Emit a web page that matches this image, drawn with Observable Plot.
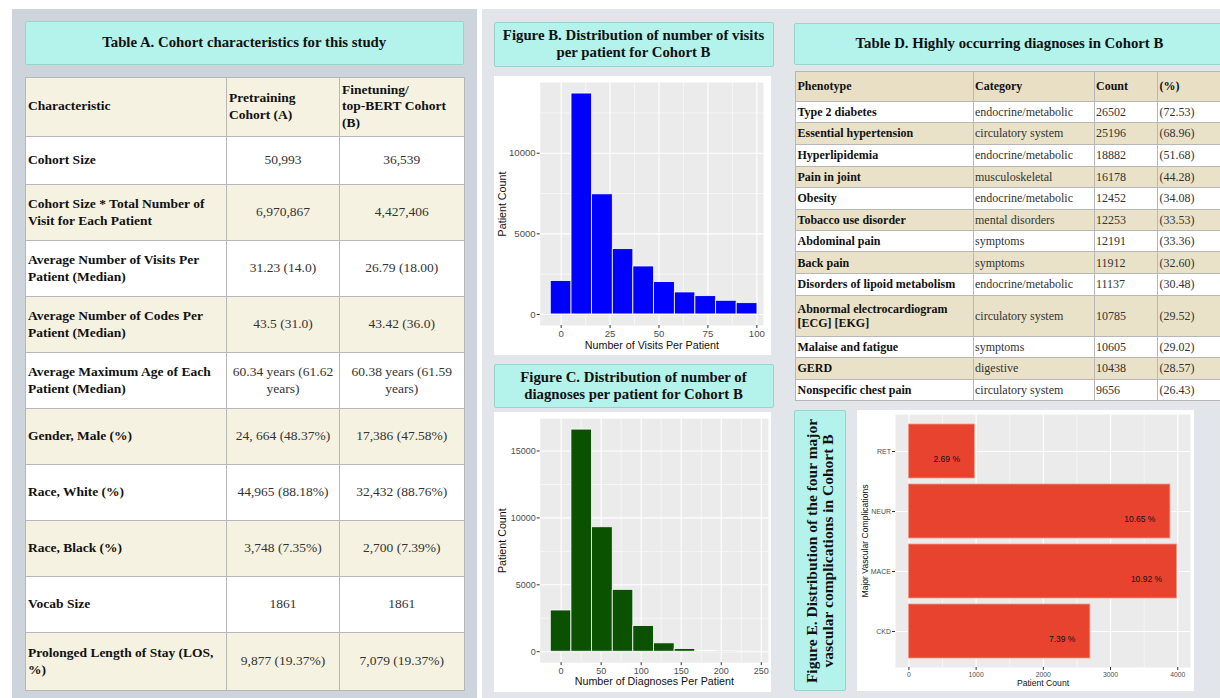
<!DOCTYPE html>
<html><head><meta charset="utf-8">
<script src="https://cdn.jsdelivr.net/npm/d3@7"></script>
<script src="https://cdn.jsdelivr.net/npm/@observablehq/plot@0.6"></script>
<style>
html,body{margin:0;padding:0;background:#fff;}
body{width:1220px;height:698px;overflow:hidden;position:relative;font-family:"Liberation Serif","Times New Roman",serif;color:#111;}
.abs{position:absolute;}
.panelL{left:12px;top:9px;width:465px;height:700px;background:#ced4db;}
.panelR{left:482px;top:9px;width:760px;height:700px;background:#e2e5e9;}
.tbox{position:absolute;background:#b3f3eb;border:1px solid #9ad3cc;box-sizing:border-box;display:flex;align-items:center;justify-content:center;text-align:center;font-weight:bold;font-size:14.8px;line-height:17.3px;border-radius:2px;}
.rot{position:absolute;left:50%;top:50%;width:281px;transform:translate(-50%,-50%) rotate(-90deg);text-align:center;font-size:15.5px;line-height:16px;white-space:nowrap;}
.chartbox{position:absolute;background:#fff;}
.chartbox svg{display:block;}
table{border-collapse:collapse;position:absolute;table-layout:fixed;}
td{border:1px solid #b7b7b7;padding:0 2px;vertical-align:middle;white-space:pre-line;overflow:hidden;}
#tA td{font-size:13.5px;line-height:16.7px;}
#tA td.lab{font-weight:bold;color:#111;}
#tA td.val{text-align:center;color:#333;}
#tA tr.beige td{background:#f6f2e1;}
#tA tr.white td{background:#fff;}
#tA tr.hdr td{font-weight:bold;text-align:left;color:#111;}
#tD td{font-size:12px;line-height:14.3px;padding:0 1.5px;color:#333;}
#tD td.lab{font-weight:bold;color:#111;}
#tD tr.beige td{background:#e9e2c8;}
#tD tr.white td{background:#fff;}
#tD tr.hdr td{font-weight:bold;color:#111;background:#e8dfc4;}
</style>
</head><body>
<div class="abs panelL"></div>
<div class="abs panelR"></div>
<div class="tbox" style="left:25px;top:20.5px;width:438.5px;height:44.5px">Table A. Cohort characteristics for this study</div>
<div class="tbox" style="left:493.5px;top:21.5px;width:280px;height:45px">Figure B. Distribution of number of visits<br>per patient for Cohort B</div>
<div class="chartbox" id="chartB" style="left:494px;top:76px;width:277px;height:279px"></div>
<div class="tbox" style="left:493.5px;top:364px;width:280px;height:44px">Figure C. Distribution of number of<br>diagnoses per patient for Cohort B</div>
<div class="chartbox" id="chartC" style="left:494px;top:411.5px;width:277px;height:280px"></div>
<div class="tbox" style="left:793.5px;top:22.5px;width:432px;height:42.5px">Table D. Highly occurring diagnoses in Cohort B</div>
<div class="tbox" style="left:793.5px;top:410px;width:52.5px;height:281px"><div class="rot">Figure E. Distribution of the four major<br>vascular complications in Cohort B</div></div>
<div class="chartbox" id="chartE" style="left:857px;top:410px;width:337px;height:281px"></div>
<script>
// ---------- Table A data ----------
const tableAHeader = ["Characteristic", "Pretraining\nCohort (A)", "Finetuning/\ntop-BERT Cohort\n(B)"];
const characteristics = ["Cohort Size", "Cohort Size * Total Number of\nVisit for Each Patient", "Average Number of Visits Per\nPatient (Median)", "Average Number of Codes Per\nPatient (Median)", "Average Maximum Age of Each\nPatient (Median)", "Gender, Male (%)", "Race, White (%)", "Race, Black (%)", "Vocab Size", "Prolonged Length of Stay (LOS,\n%)"];
const pretrainingValues = ["50,993", "6,970,867", "31.23 (14.0)", "43.5 (31.0)", "60.34 years (61.62\nyears)", "24, 664 (48.37%)", "44,965 (88.18%)", "3,748 (7.35%)", "1861", "9,877 (19.37%)"];
const finetuningValues = ["36,539", "4,427,406", "26.79 (18.00)", "43.42 (36.0)", "60.38 years (61.59\nyears)", "17,386 (47.58%)", "32,432 (88.76%)", "2,700 (7.39%)", "1861", "7,079 (19.37%)"];

// ---------- Table D data ----------
const tableDHeader = ["Phenotype", "Category", "Count", "(%)"];
const phenotypes = ["Type 2 diabetes", "Essential hypertension", "Hyperlipidemia", "Pain in joint", "Obesity", "Tobacco use disorder", "Abdominal pain", "Back pain", "Disorders of lipoid metabolism", "Abnormal electrocardiogram\n[ECG] [EKG]", "Malaise and fatigue", "GERD", "Nonspecific chest pain"];
const phenoCategories = ["endocrine/metabolic", "circulatory system", "endocrine/metabolic", "musculoskeletal", "endocrine/metabolic", "mental disorders", "symptoms", "symptoms", "endocrine/metabolic", "circulatory system", "symptoms", "digestive", "circulatory system"];
const phenoCounts = ["26502", "25196", "18882", "16178", "12452", "12253", "12191", "11912", "11137", "10785", "10605", "10438", "9656"];
const phenoPercents = ["(72.53)", "(68.96)", "(51.68)", "(44.28)", "(34.08)", "(33.53)", "(33.36)", "(32.60)", "(30.48)", "(29.52)", "(29.02)", "(28.57)", "(26.43)"];

// ---------- Figure B data ----------
const visitBinEdges = [-5.3, 5.3, 15.8, 26.4, 36.9, 47.5, 58.1, 68.6, 79.2, 89.7, 100.3];
const visitCounts = [2070, 13700, 7450, 4050, 2975, 2005, 1365, 1135, 850, 700];
const visitTicksX = [0, 25, 50, 75, 100];
const visitTicksY = [0, 5000, 10000];

// ---------- Figure C data ----------
const diagBinEdges = [-12.9, 12.9, 38.7, 64.5, 90.2, 116.0, 141.8, 167.6, 193.4, 219.1, 244.9];
const diagCounts = [3080, 16600, 9300, 4625, 1925, 625, 200, 50, 15, 5];
const diagTicksX = [0, 50, 100, 150, 200, 250];
const diagTicksY = [0, 5000, 10000, 15000];

// ---------- Figure E data ----------
const complications = ["RET", "NEUR", "MACE", "CKD"];
const complicationCounts = [983, 3891, 3990, 2700];
const complicationPercents = [2.69, 10.65, 10.92, 7.39];
const compTicksX = [0, 1000, 2000, 3000, 4000];

// ---------- layout (sizes only) ----------
const rowHeightsA = [59.5, 48, 56, 56, 56, 56, 56, 56, 56, 56, 58];
const colWidthsA = [201, 113, 124.5];
const rowHeightsD = [30.6, 21.4, 21.3, 22, 21.3, 21.7, 21.3, 21.4, 21.6, 21.7, 41.7, 21, 21.3, 21.7];
const colWidthsD = [177.5, 121, 63.5, 83];

function esc(s){return s.replace(/&/g,"&amp;").replace(/</g,"&lt;");}

// Table A
(function(){
  let h = `<table id="tA" style="left:25px;top:76.5px;width:${d3.sum(colWidthsA)}px"><colgroup>${colWidthsA.map(w=>`<col style="width:${w}px">`).join("")}</colgroup>`;
  h += `<tr class="hdr beige" style="height:${rowHeightsA[0]}px">${tableAHeader.map(t=>`<td>${esc(t)}</td>`).join("")}</tr>`;
  characteristics.forEach((c,i)=>{
    const cls = i%2===0 ? "white" : "beige";
    h += `<tr class="${cls}" style="height:${rowHeightsA[i+1]}px"><td class="lab">${esc(c)}</td><td class="val">${esc(pretrainingValues[i])}</td><td class="val">${esc(finetuningValues[i])}</td></tr>`;
  });
  h += `</table>`;
  document.body.insertAdjacentHTML("beforeend", h);
})();

// Table D
(function(){
  let h = `<table id="tD" style="left:795px;top:70.5px;width:${d3.sum(colWidthsD)}px"><colgroup>${colWidthsD.map(w=>`<col style="width:${w}px">`).join("")}</colgroup>`;
  h += `<tr class="hdr" style="height:${rowHeightsD[0]}px">${tableDHeader.map(t=>`<td>${esc(t)}</td>`).join("")}</tr>`;
  phenotypes.forEach((p,i)=>{
    const cls = i%2===0 ? "white" : "beige";
    h += `<tr class="${cls}" style="height:${rowHeightsD[i+1]}px"><td class="lab">${esc(p)}</td><td>${esc(phenoCategories[i])}</td><td>${esc(phenoCounts[i])}</td><td>${esc(phenoPercents[i])}</td></tr>`;
  });
  h += `</table>`;
  document.body.insertAdjacentHTML("beforeend", h);
})();

const ggFont = "'Liberation Sans', Arial, Helvetica, sans-serif";
const mids = ticks => ticks.slice(0,-1).map((t,i)=>(t+ticks[i+1])/2);

function histogram(opts){
  const bins = opts.counts.map((c,i)=>({x1: opts.edges[i], x2: opts.edges[i+1], count: c}));
  const minorY = mids(opts.ticksY).concat([opts.ticksY[opts.ticksY.length-1] + (opts.ticksY[1]-opts.ticksY[0])/2]).filter(v=>v<opts.yDomain[1]);
  return Plot.plot({
    width: opts.width, height: opts.height,
    marginLeft: opts.ml, marginRight: opts.mr, marginTop: opts.mt, marginBottom: opts.mb,
    x: {domain: opts.xDomain},
    y: {domain: opts.yDomain},
    style: {fontFamily: ggFont, background: "white", overflow: "visible"},
    marks: [
      Plot.frame({fill: "#ebebeb", stroke: "none"}),
      Plot.gridX({ticks: mids(opts.ticksX), stroke: "white", strokeOpacity: 1, strokeWidth: 0.55}),
      Plot.gridY({ticks: minorY, stroke: "white", strokeOpacity: 1, strokeWidth: 0.55}),
      Plot.gridX({ticks: opts.ticksX, stroke: "white", strokeOpacity: 1, strokeWidth: 1.1}),
      Plot.gridY({ticks: opts.ticksY, stroke: "white", strokeOpacity: 1, strokeWidth: 1.1}),
      Plot.rectY(bins, {x1: "x1", x2: "x2", y: "count", fill: opts.fill, stroke: "white", strokeWidth: 0.8}),
      Plot.axisX({ticks: opts.ticksX, tickSize: 3, tickPadding: 2, fontSize: opts.tickFont, stroke: "#333", fill: "#4d4d4d", tickFormat: d => String(d), label: null}),
      Plot.axisY({ticks: opts.ticksY, tickSize: 3, tickPadding: 1.5, fontSize: opts.tickFont, stroke: "#333", fill: "#4d4d4d", tickFormat: d => String(d), label: null}),
      Plot.text([opts.xLabel], {frameAnchor: "bottom", textAnchor: "middle", lineAnchor: "middle", dy: opts.xLabelDy, fontSize: 10.7, fill: "#111"}),
      Plot.text(["Patient Count"], {frameAnchor: "left", textAnchor: "middle", lineAnchor: "middle", rotate: -90, dx: -37.4, fontSize: 10.7, fill: "#111"})
    ]
  });
}

document.getElementById("chartB").appendChild(histogram({
  width: 277, height: 279, ml: 45.7, mr: 8, mt: 6, mb: 30,
  xDomain: [-10.7, 103.4], yDomain: [-685, 14385],
  edges: visitBinEdges, counts: visitCounts, ticksX: visitTicksX, ticksY: visitTicksY,
  fill: "#0000ff", tickFont: 9.6, xLabel: "Number of Visits Per Patient", xLabelDy: 20
}));

document.getElementById("chartC").appendChild(histogram({
  width: 277, height: 280, ml: 45.7, mr: 3, mt: 6.2, mb: 29.8,
  xDomain: [-26.1, 259], yDomain: [-822, 17414],
  edges: diagBinEdges, counts: diagCounts, ticksX: diagTicksX, ticksY: diagTicksY,
  fill: "#0a5200", tickFont: 9, xLabel: "Number of Diagnoses Per Patient", xLabelDy: 19.3
}));

// Figure E
(function(){
  const data = complications.map((c,i)=>({cat: c, count: complicationCounts[i], pct: complicationPercents[i]}));
  const chart = Plot.plot({
    width: 337, height: 281,
    marginLeft: 38, marginRight: 4, marginTop: 4, marginBottom: 24,
    x: {domain: [-199.5, 4189.5]},
    y: {domain: complications, paddingInner: 0.1, paddingOuter: 0.15},
    style: {fontFamily: ggFont, background: "white", overflow: "visible"},
    marks: [
      Plot.frame({fill: "#ebebeb", stroke: "none"}),
      Plot.gridX({ticks: mids(compTicksX), stroke: "white", strokeOpacity: 1, strokeWidth: 0.55}),
      Plot.gridX({ticks: compTicksX, stroke: "white", strokeOpacity: 1, strokeWidth: 1.1}),
      Plot.gridY({stroke: "white", strokeOpacity: 1, strokeWidth: 1.1}),
      Plot.barX(data, {x: "count", y: "cat", fill: "#e8432f", stroke: "#f19a8c", strokeWidth: 0.8}),
      Plot.text(data, {x: "count", y: "cat", text: d => d.pct.toFixed(2) + " %", textAnchor: "end", dx: -15, dy: 7.5, fontSize: 8.5, fill: "#111"}),
      Plot.axisX({ticks: compTicksX, tickSize: 3, tickPadding: 2, fontSize: 6.8, stroke: "#333", fill: "#4d4d4d", tickFormat: d => String(d), label: null}),
      Plot.axisY({tickSize: 3, tickPadding: 1.5, fontSize: 7, stroke: "#333", fill: "#4d4d4d", label: null}),
      Plot.text(["Patient Count"], {frameAnchor: "bottom", textAnchor: "middle", lineAnchor: "middle", dy: 15.3, fontSize: 8.6, fill: "#111"}),
      Plot.text(["Major Vascular Complications"], {frameAnchor: "left", textAnchor: "middle", lineAnchor: "middle", rotate: -90, dx: -30, fontSize: 8.6, fill: "#111"})
    ]
  });
  document.getElementById("chartE").appendChild(chart);
})();
</script>
</body></html>
